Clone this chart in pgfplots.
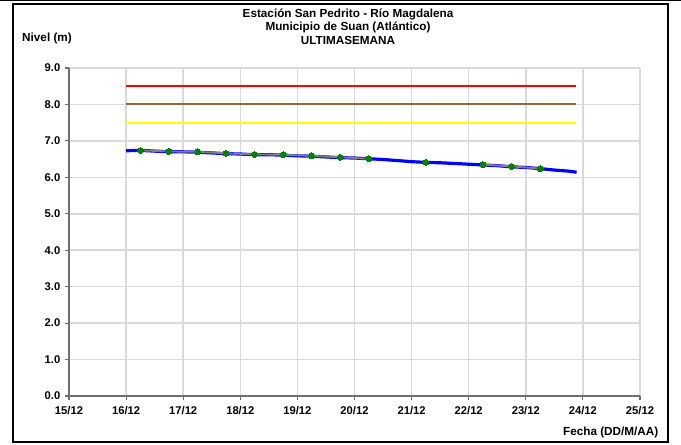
\documentclass[border=0pt]{standalone}
\usepackage{fontspec}
\setmainfont{Liberation Sans}
\usepackage{pgfplots}
\pgfplotsset{compat=1.18}
\definecolor{refred}{RGB}{255,0,0}
\definecolor{refbrown}{RGB}{153,102,51}
\definecolor{refyellow}{RGB}{255,255,0}
\definecolor{lgray}{RGB}{217,217,217}
\definecolor{axgray}{RGB}{110,110,110}
\definecolor{dgreen}{RGB}{0,128,0}
\definecolor{lgrayline}{RGB}{128,128,128}
\begin{document}
\begin{tikzpicture}[x=0.75pt,y=0.75pt]
\path[use as bounding box] (0,0) rectangle (681,444);
\fill (0,442.5) rectangle (681,444);
\begin{axis}[
  at={(51.75pt,36pt)}, anchor=south west, scale only axis,
  width=428.25pt, height=246pt,
  xmin=15, xmax=25, ymin=0, ymax=9,
  axis lines=left, axis line style={-, axgray, line width=0.8pt},
  xtick={15,...,25},
  xticklabels={15/12,16/12,17/12,18/12,19/12,20/12,21/12,22/12,23/12,24/12,25/12},
  ytick={0,1,...,9},
  tick style={axgray, line width=0.8pt},
  tick align=outside, major tick length=3pt,
  grid=major, grid style={lgray, line width=1.1pt},
  tick label style={font=\bfseries\fontsize{8.4}{9}\selectfont},
  yticklabel style={/pgf/number format/.cd, fixed, fixed zerofill, precision=1, assume math mode=true},
  xticklabel style={yshift=-1pt},
  unbounded coords=jump,
  clip=false,
]
\addplot[refred, line width=1.5pt] coordinates {(16,8.5) (23.88,8.5)};
\addplot[refbrown, line width=1.5pt] coordinates {(16,8.0) (23.88,8.0)};
\addplot[refyellow, line width=1.5pt] coordinates {(16,7.5) (23.88,7.5)};
\addplot[blue, line width=2.4pt] coordinates {
(16.0,6.73) (16.25,6.74) (16.5,6.72) (16.75,6.70) (17.0,6.70) (17.25,6.69)
(17.5,6.67) (17.75,6.65) (18.0,6.64) (18.25,6.62) (18.5,6.62) (18.75,6.61)
(19.0,6.59) (19.25,6.58) (19.5,6.56) (19.75,6.54) (20.0,6.53) (20.25,6.51)
(20.5,6.49) (20.75,6.46) (21.0,6.43) (21.25,6.41) (21.5,6.40) (21.75,6.38)
(22.0,6.36) (22.25,6.34) (22.5,6.32) (22.75,6.29) (23.0,6.27) (23.25,6.24)
(23.5,6.20) (23.75,6.17) (23.89,6.14)};
\addplot[lgrayline, line width=1.4pt, mark=*, mark size=2.2pt,
  mark options={fill=dgreen, draw=dgreen, line width=0pt}] coordinates {
(16.25,6.74) (16.75,6.71) (17.25,6.70) (17.75,6.66) (18.25,6.63) (18.75,6.62)
(19.25,6.59) (19.75,6.55) (20.25,6.51) (20.75,nan) (21.25,6.41) (21.75,nan)
(22.25,6.35) (22.75,6.30) (23.25,6.24)};
\end{axis}
\draw[line width=1.5pt] (13,2) rectangle (668,440);
\node[font=\bfseries\fontsize{8.8}{10}\selectfont] at (348,430) {Estación San Pedrito - Río Magdalena};
\node[font=\bfseries\fontsize{8.8}{10}\selectfont] at (348,417) {Municipio de Suan (Atlántico)};
\node[font=\bfseries\fontsize{8.8}{10}\selectfont] at (348,404) {ULTIMASEMANA};
\node[font=\bfseries\fontsize{8.8}{10}\selectfont] at (47,406) {Nivel (m)};
\node[font=\bfseries\fontsize{8.8}{10}\selectfont, anchor=east] at (663,12) {Fecha (DD/M/AA)};
\end{tikzpicture}
\end{document}
